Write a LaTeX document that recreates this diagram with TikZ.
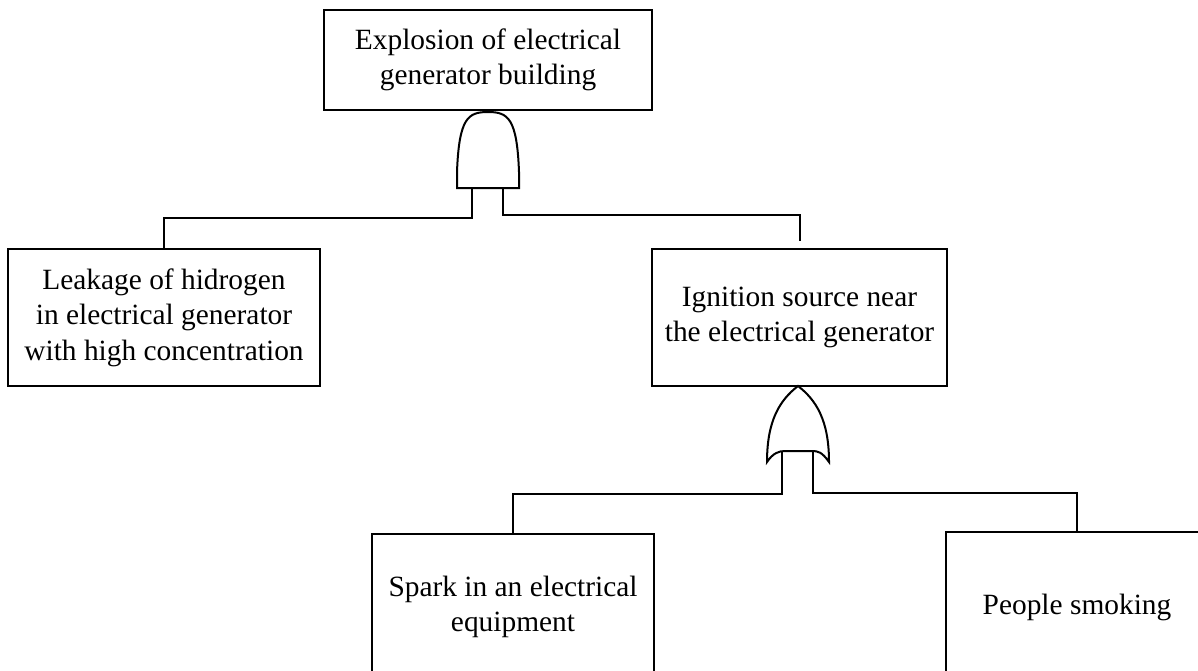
\documentclass[tikz,border=0pt]{standalone}
\usepackage{fontspec}
\setmainfont{Liberation Serif}
\usepackage{tikz}

\begin{document}
\begin{tikzpicture}[
    x=0.5bp, y=-0.5bp,
    line width=1bp,
    event_node/.style={
        rectangle,
        draw=black,
        fill=white,
        line width=1bp,
        inner sep=2bp,
        align=center,
        font=\fontsize{14.7bp}{17.8bp}\selectfont
    },
    gate_shape/.style={
        draw=black,
        fill=white,
        line width=1bp
    }
]
    \useasboundingbox (0,0) rectangle (1198,670);
    \clip (0,0) rectangle (1198,670);

    % Event Nodes
    \node (top) [event_node, minimum width=164bp, minimum height=50bp] at (488,60)
        {Explosion of electrical\\generator building};
    \node (leak) [event_node, minimum width=156bp, minimum height=68.5bp] at (164,317.5)
        {Leakage of hidrogen\\in electrical generator\\with high concentration};
    \node (ign) [event_node, minimum width=147.5bp, minimum height=68.5bp] at (799.5,317.5)
        {Ignition source near\\the electrical generator};
    \node (spark) [event_node, minimum width=141bp, minimum height=73bp] at (513,607)
        {Spark in an electrical\\equipment};
    \node (smoke) [event_node, minimum width=131bp, minimum height=75bp] at (1077,607)
        {People smoking};

    % AND gate under the top event
    \draw [gate_shape] (457,188) -- (457,172)
        .. controls (459,118) and (468,112) .. (488,112)
        .. controls (508,112) and (517,118) .. (519,172)
        -- (519,188) -- cycle;
    \coordinate (andL) at (472,188);
    \coordinate (andR) at (503,188);

    % OR gate under the ignition event
    \draw [gate_shape] (767,462)
        .. controls (767,420) and (780,400) .. (798,386)
        .. controls (816,400) and (829,420) .. (829,462)
        .. controls (822,452) and (818,451) .. (812,451)
        -- (785,451)
        .. controls (779,451) and (773,453) .. (767,462) -- cycle;
    \coordinate (orL) at (782,451);
    \coordinate (orR) at (813,451);

    % Connections
    \coordinate (ignIn) at ([yshift=3.5bp]ign.north);
    \draw (andL) -- ++(0,30) -| (leak.north);
    \draw (andR) -- ++(0,27) -| (ignIn);
    \draw (orL) -- ++(0,43) -| (spark.north);
    \draw (orR) -- ++(0,42) -| (smoke.north);

\end{tikzpicture}
\end{document}
